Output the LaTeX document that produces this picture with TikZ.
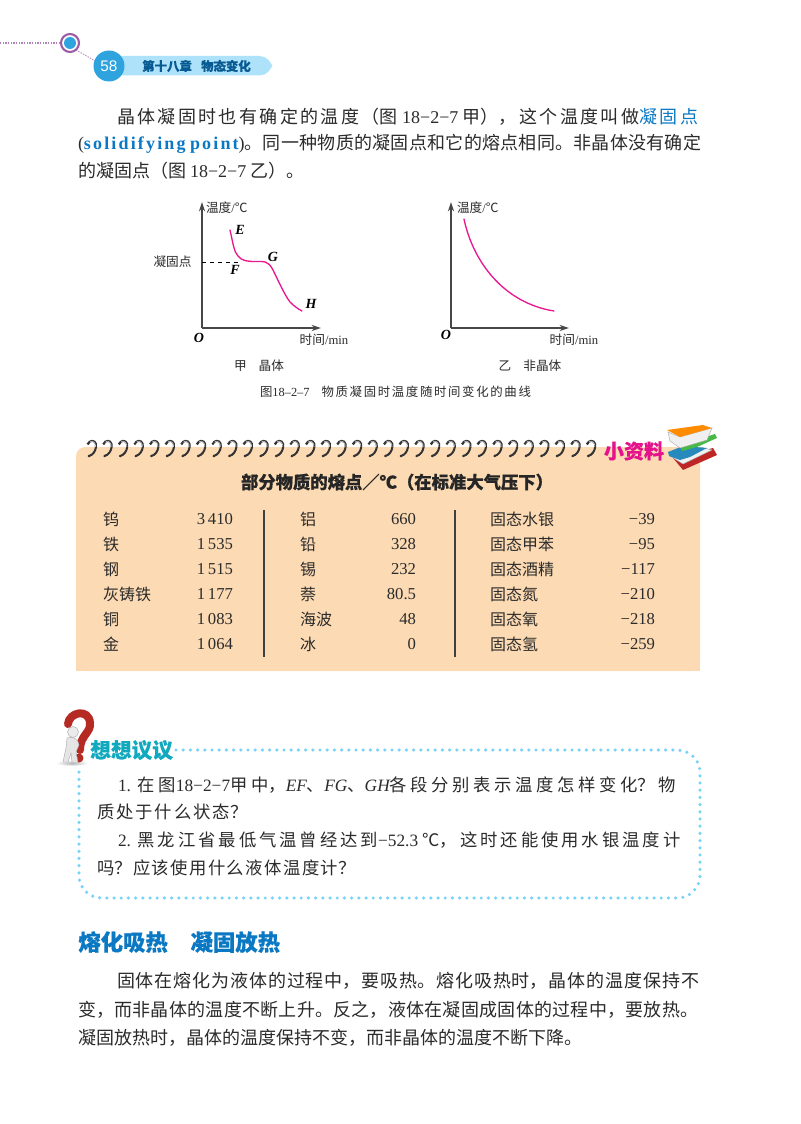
\documentclass[tikz,border=0pt]{standalone}
\usepackage{fontspec}
\setmainfont{Noto Sans CJK SC}[BoldFeatures={FakeBold=0.4}]
\newfontfamily\lat{Liberation Serif}
\newfontfamily\ssf{Liberation Sans}
\usetikzlibrary{arrows.meta}
\XeTeXlinebreaklocale "zh"
\XeTeXlinebreakskip=0pt plus 3pt minus 0.6pt
\definecolor{peach}{HTML}{FCDAB3}
\definecolor{pagetext}{HTML}{2B2B2B}
\definecolor{headblue}{HTML}{0B78C4}
\definecolor{circblue}{HTML}{2FA3DD}
\definecolor{pillblue}{HTML}{AEE2FA}
\definecolor{pink}{HTML}{E9188F}
\definecolor{dotblue}{HTML}{74D3F7}
\definecolor{purp}{HTML}{9B5BA5}
\definecolor{teal2}{HTML}{10A9BE}
\definecolor{mag}{HTML}{E5128C}
\definecolor{qred}{HTML}{B62A24}
\tikzset{
 x=0.75pt,y=-0.75pt,
 txt/.style={inner sep=0pt,outer sep=0pt,text=pagetext,anchor=west},
 axisline/.style={draw=black!72,line width=1.2pt,-{Stealth[length=7pt,width=4.5pt]}},
 curveline/.style={draw=pink,line width=1pt,line cap=round},
 dotline/.style={draw=dotblue,line width=2.6pt,line cap=round,dash pattern=on 0pt off 5.4pt},
 rowname/.style={txt,font=\fontsize{12}{14}\selectfont},
 rowval/.style={inner sep=0pt,outer sep=0pt,text=pagetext,anchor=east,font=\lat\fontsize{12.5}{14}\selectfont},
 small/.style={inner sep=0pt,outer sep=0pt,text=pagetext,font=\fontsize{9.5}{11}\selectfont},
 ital/.style={inner sep=0pt,outer sep=0pt,text=black,font=\lat\itshape\bfseries\fontsize{10.5}{12}\selectfont},
}
% name, x, y, width (px), size (pt), text : one justified line
\newcommand{\tline}[6]{\node[txt,text width=#4*0.75pt] (#1) at (#2,#3)
  {\fontsize{#5}{#5}\selectfont\parfillskip=0pt\relax #6\par};}
\newcommand{\lt}[1]{{\lat #1}}
\begin{document}
\begin{tikzpicture}
\useasboundingbox (0,0) rectangle (800,1124);
\fill[white] (0,0) rectangle (800,1124);

% ---------- page header
\coordinate (hstart) at (0,43);
\draw[purp!75,line width=1pt,dash pattern=on 1pt off 1pt] (hstart) -- (60,43);
\draw[purp!70,line width=.7pt,dash pattern=on 1pt off 1pt] (76,50) -- (97,62);
\fill[pillblue,rounded corners=9.5pt] (109,56) rectangle (272,75.5);
\fill[circblue] (109,66) circle[radius=15.5];
\draw[purp,line width=1.6pt,fill=white] (70,43) circle[radius=9];
\fill[circblue] (70,43) circle[radius=6];
\node[inner sep=0,text=white,font=\ssf\fontsize{11.5}{13}\selectfont] (pageno) at (109,66) {58};
\node[inner sep=0,anchor=west,text=headblue!75!black,font=\bfseries\fontsize{9.3}{11}\selectfont] (chap) at (142,66) {第十八章\hspace{7pt}物态变化};

% ---------- first paragraph
\tline{p1}{117}{117}{597}{13.5}{晶体凝固时也有确定的温度（图 \lt{18−2−7} 甲），这个温度叫做{\color{headblue}凝固点}}
\tline{p2}{78}{144}{625}{13.5}{\lt{(}{\color{headblue}\lat\bfseries\addfontfeature{LetterSpace=12}\fontsize{13.5}{13.5}\selectfont solidifying point}\lt{)}。同一种物质的凝固点和它的熔点相同。非晶体没有确定}
\node[txt,font=\fontsize{13.5}{13.5}\selectfont] (p3) at (78,171) {的凝固点（图 \lt{18−2−7} 乙）。};

% ---------- left chart
\coordinate (o1) at (202,328);
\coordinate (y1) at (202,202);
\coordinate (x1) at (321,328);
\draw[axisline] (o1) -- (y1);
\draw[axisline] (o1) -- (x1);
\coordinate (e) at (230,230);
\coordinate (h) at (302,311);
\draw[black,line width=.5pt,dashed] (202,262) -- (240,262);
\draw[curveline] (e) .. controls (233,243) and (234,252) .. (238,256)
  .. controls (242,261) and (247,261.5) .. (256,261.5)
  .. controls (263,261.5) and (268,260) .. (273,270)
  .. controls (278,280) and (284,294) .. (290,302)
  .. controls (294,306) and (298,309) .. (h);
\node[small,anchor=west] (t1) at (206,208) {温度\lt{/}℃};
\node[small] (t2) at (172.5,262) {凝固点};
\node[small] (t3) at (324,340) {时间\lt{/min}};
\node[small] (t4) at (259,366) {甲\hspace{9pt}晶体};
\node[ital] (le) at (240,230) {E};
\node[ital] (lf) at (235,270) {F};
\node[ital] (lg) at (273,257) {G};
\node[ital] (lh) at (311,304) {H};
\node[ital] (lo) at (199,338) {O};

% ---------- right chart
\coordinate (o2) at (451,328);
\coordinate (y2) at (451,202);
\coordinate (x2) at (569,328);
\draw[axisline] (o2) -- (y2);
\draw[axisline] (o2) -- (x2);
\coordinate (a) at (464,219);
\coordinate (b) at (554,311);
\draw[curveline] (a) .. controls (473,262) and (504,303) .. (b);
\node[small,anchor=west] (t5) at (457,208) {温度\lt{/}℃};
\node[small] (t6) at (574,340) {时间\lt{/min}};
\node[small] (t7) at (530,366) {乙\hspace{9pt}非晶体};
\node[ital] (lo2) at (446,335) {O};
\tline{cap}{260}{392}{282}{9.3}{图\lt{18–2–7}\hspace{9pt}物质凝固时温度随时间变化的曲线}

% ---------- data panel
\fill[peach,rounded corners=7pt] (76,447) -- (76,671) -- (700,671) -- (700,447) -- cycle;
\fill[peach] (690,447) rectangle (700,671);
\fill[peach] (76,660) rectangle (90,671);
\foreach \i in {0,...,32}{
 \begin{scope}[shift={(92+15.6*\i,449)}]
  \draw[black!80,line width=1.5pt,line cap=round] (-3,-7) .. controls (1,-10) and (5,-7) .. (4,-2)
     .. controls (3.5,2) and (1,6) .. (-3,7);
  \draw[black!25,line width=.5pt] (-2,-7.3) .. controls (1,-9) and (4,-6) .. (3.6,-2);
  \fill[black!80] (-3.7,-5.5) circle[radius=1.6];
  \fill[black!80] (-3,7) circle[radius=1.3];
 \end{scope}
}
\node[inner sep=0,text=mag,font=\bfseries\fontsize{15}{17}\selectfont] (xzl) at (634,451) {小资料};
% books
\fill[red!70!black!85] (673,458) -- (683,470) -- (717,455) -- (713,448) -- cycle;
\fill[black!6,draw=black!35,line width=.3pt] (670,456) -- (683,464) -- (712,450) -- (700,447) -- cycle;
\fill[circblue!85!black] (668,452) -- (683,446) -- (707,448) -- (690,457) -- (680,460) -- (669,456) -- cycle;
\fill[green!45!gray] (680,445) -- (715,434) -- (717,438) -- (697,447) -- (682,451) -- cycle;
\fill[black!6,draw=black!35,line width=.3pt] (668,432) -- (680,437) -- (712,428) -- (707,440) -- (680,448) -- (670,441) -- cycle;
\fill[orange!90!yellow] (667,430) -- (703,425) -- (712,428) -- (680,437) -- cycle;

\node[inner sep=0,text=black!85,font=\bfseries\fontsize{13}{15}\selectfont] (ttl) at (397,482) {部分物质的熔点／℃（在标准大气压下）};
\draw[black!75,line width=.8pt] (264,510) -- (264,657);
\draw[black!75,line width=.8pt] (455,510) -- (455,657);
\foreach \nm/\v/\yy [count=\c] in {钨/3\,410/519,铁/1\,535/544,钢/1\,515/569,灰铸铁/1\,177/594,铜/1\,083/619,金/1\,064/644}{
 \node[rowname] (na\c) at (103,\yy) {\nm};
 \node[rowval] (va\c) at (233,\yy) {\v};
}
\foreach \nm/\v/\yy [count=\c] in {铝/660/519,铅/328/544,锡/232/569,萘/80.5/594,海波/48/619,冰/0/644}{
 \node[rowname] (nb\c) at (300,\yy) {\nm};
 \node[rowval] (vb\c) at (416,\yy) {\v};
}
\foreach \nm/\v/\yy [count=\c] in {固态水银/−39/519,固态甲苯/−95/544,固态酒精/−117/569,固态氮/−210/594,固态氧/−218/619,固态氢/−259/644}{
 \node[rowname] (nc\c) at (490,\yy) {\nm};
 \node[rowval] (vc\c) at (655,\yy) {\v};
}

% ---------- discussion box
\coordinate (d0) at (176,750);
\coordinate (d1) at (79,767);
\draw[dotline,rounded corners=17pt] (d0) -- (700,750) -- (700,898) -- (79,898) -- (d1);
% question mark figure
\shade[inner color=black!30,outer color=white] (72,763) ellipse[x radius=16,y radius=3];
\draw[qred,line width=6pt,line cap=round] (68,724) .. controls (69,712) and (89,708) .. (90,723)
  .. controls (91,733) and (80,735) .. (80,750);
\fill[qred] (79,758) circle[radius=4.5];
\fill[white!92!black,draw=black!35,line width=.3pt] (73,732) circle[radius=5.5];
\fill[white!90!black,draw=black!35,line width=.3pt] (67,738) .. controls (72,736) and (78,738) .. (79,745)
  -- (76,752) -- (78,762) -- (72,762) -- (71,753) -- (68,762) -- (63,762) -- (66,748) -- cycle;
\node[inner sep=0,anchor=west,text=teal2,font=\bfseries\fontsize{15.5}{17}\selectfont] (xxyy) at (90,750) {想想议议};

\tline{q1}{118}{785}{582}{13}{\lt{1.} 在图\lt{18−2−7}甲中，\lt{\itshape EF}、\lt{\itshape FG}、\lt{\itshape GH}各段分别表示温度怎样变化？物}
\tline{q2}{97}{812}{164}{13}{质处于什么状态？}
\tline{q3}{118}{840}{582}{13}{\lt{2.} 黑龙江省最低气温曾经达到\lt{−52.3} ℃，这时还能使用水银温度计}
\tline{q4}{97}{868}{268}{13}{吗？应该使用什么液体温度计？}

% ---------- section
\node[inner sep=0,anchor=west,text=headblue,font=\bfseries\fontsize{16.8}{20}\selectfont] (sec) at (78,942) {熔化吸热\hspace{17pt}凝固放热};
\tline{r1}{117}{981}{588}{13.5}{固体在熔化为液体的过程中，要吸热。熔化吸热时，晶体的温度保持不}
\tline{r2}{78}{1010}{622}{13.5}{变，而非晶体的温度不断上升。反之，液体在凝固成固体的过程中，要放热。}
\tline{r3}{78}{1038}{505}{13.5}{凝固放热时，晶体的温度保持不变，而非晶体的温度不断下降。}
\end{tikzpicture}
\end{document}
